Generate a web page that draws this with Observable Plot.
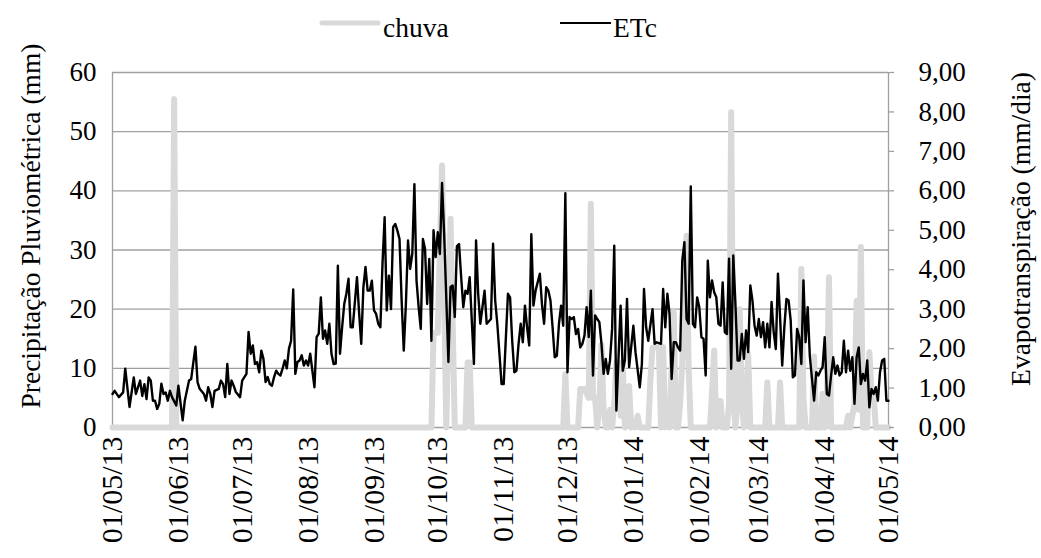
<!DOCTYPE html>
<html><head><meta charset="utf-8">
<script src="https://cdn.jsdelivr.net/npm/d3@7"></script>
<script src="https://cdn.jsdelivr.net/npm/@observablehq/plot@0.6"></script>
<style>
body{margin:0;background:#fff;}
#wrap{position:relative;width:1041px;height:558px;overflow:hidden;font-family:"Liberation Serif","Times New Roman",serif;}
#legend{position:absolute;top:0;left:0;}
#chart{position:absolute;top:45px;left:0;}
#titles{position:absolute;top:0;left:0;pointer-events:none;}
#wrap svg, #wrap svg text{font-family:"Liberation Serif","Times New Roman",serif !important;}
</style></head><body>
<div id="wrap">
<svg id="legend" width="1041" height="45">
  <line x1="322" x2="378" y1="23" y2="23" stroke="#d9d9d9" stroke-width="5" stroke-linecap="round"/>
  <text x="383" y="37" font-size="27.5">chuva</text>
  <line x1="560" x2="611" y1="23" y2="23" stroke="#000" stroke-width="2"/>
  <text x="613" y="37" font-size="27.5">ETc</text>
</svg>
<div id="chart"></div>
<svg id="titles" width="1041" height="558">
  <text transform="translate(40,226) rotate(-90)" text-anchor="middle" font-size="27.5">Precipitação Pluviométrica  (mm)</text>
  <text transform="translate(1030,229) rotate(-90)" text-anchor="middle" font-size="27.5">Evapotranspiração (mm/dia)</text>
</svg>
</div>
<script>
// day offsets from 01/05/2013
const etcDay = [0,1,3,5,6,8,10,11,13,14,15,16,17,18,19,20,21,22,23,24,25,26,27,28,30,31,33,34,36,37,39,40,41,43,44,45,46,47,48,50,51,52,53,54,55,56,57,58,60,61,63,64,65,66,67,68,69,70,71,72,73,74,75,76,77,78,79,80,81,82,83,84,85,86,87,88,89,90,91,92,93,94,95,96,97,98,99,100,101,102,103,104,105,106,107,108,109,110,111,112,113,115,116,117,118,119,120,121,122,123,124,125,126,127,128,129,130,131,132,133,134,135,136,137,138,139,140,141,142,143,144,145,146,147,148,149,150,151,152,153,154,155,156,158,159,160,161,162,163,164,165,166,167,168,170,171,172,173,175,176,178,179,180,181,182,183,184,186,187,188,189,190,191,192,193,194,195,196,197,198,199,201,202,203,204,205,206,207,208,209,210,211,212,213,214,215,216,217,218,219,220,221,222,223,224,225,226,227,228,229,230,231,232,233,234,235,236,237,239,240,241,242,243,245,246,248,249,250,251,252,254,255,256,258,259,260,261,262,263,264,265,266,267,268,269,270,271,272,273,274,275,276,277,278,279,280,281,282,283,284,285,286,287,288,289,290,291,292,293,294,295,296,297,298,299,300,301,302,303,304,305,306,307,308,309,310,311,312,313,314,315,316,317,318,319,320,321,322,323,324,325,326,327,328,330,331,332,333,334,335,336,337,338,339,340,341,342,343,344,345,346,347,348,349,350,351,352,353,354,355,356,357,358,359,360,361,362,363,364,365];
const etcVal = [0.85,0.93,0.77,0.89,1.49,0.52,1.27,0.85,1.19,0.80,1.10,0.72,1.27,1.19,0.68,0.68,0.47,0.60,1.11,0.85,0.89,0.68,0.93,0.77,0.56,1.06,0.18,0.68,1.19,1.23,2.05,1.15,0.98,0.85,0.68,1.02,0.85,0.52,0.93,0.98,1.19,1.10,0.77,1.61,0.85,1.19,1.06,0.90,0.77,1.19,1.36,2.42,1.87,2.08,1.61,1.66,1.40,1.95,1.74,1.15,1.28,1.10,1.06,1.28,1.44,1.36,1.32,1.49,1.70,1.50,2.00,2.20,3.50,1.36,1.66,1.70,1.83,1.57,1.70,1.57,1.87,1.44,1.02,2.29,2.38,3.30,2.25,2.46,2.12,2.63,1.87,1.61,1.62,4.10,1.87,2.54,3.13,3.39,3.77,2.54,2.54,3.81,2.90,2.12,3.55,4.07,3.47,3.47,3.72,2.97,2.88,2.63,2.54,4.15,5.33,2.97,3.85,3.00,5.08,5.16,4.99,4.78,3.22,1.95,3.13,4.74,4.02,4.40,6.17,3.72,3.05,2.50,4.78,4.53,3.13,4.27,2.20,5.00,4.32,4.95,4.40,6.20,4.90,1.66,3.56,3.60,2.80,4.60,4.65,3.81,3.05,3.47,3.39,3.81,1.61,4.74,3.39,2.63,3.47,2.63,2.75,4.66,3.22,2.63,1.87,1.10,1.10,3.39,3.30,2.20,1.40,1.44,2.12,2.63,2.16,3.09,2.54,2.08,4.90,3.09,3.47,3.90,3.13,2.63,3.56,3.47,3.22,2.54,1.78,1.82,2.63,3.09,2.58,5.94,1.40,2.80,2.75,2.80,2.37,2.50,2.03,2.12,2.33,3.05,2.29,3.47,1.32,2.84,2.75,2.67,2.12,1.36,1.74,1.36,1.70,2.50,4.61,0.43,3.09,1.44,1.70,3.26,1.53,2.58,1.91,1.02,1.61,3.51,2.54,2.20,3.00,2.12,2.16,2.12,3.51,2.54,3.39,2.88,1.23,2.16,2.16,2.03,1.95,4.23,4.70,2.75,2.63,6.11,2.63,2.54,3.30,3.05,2.29,2.25,1.32,4.23,3.30,3.73,3.43,3.30,2.63,2.58,3.68,2.42,2.37,4.28,1.49,4.36,3.13,1.70,1.70,2.37,1.74,2.46,1.91,3.60,3.22,2.58,2.33,2.75,2.29,2.67,2.03,2.63,2.03,3.18,2.42,1.99,3.90,2.80,1.57,2.54,3.26,3.22,2.71,1.27,1.32,2.50,2.29,1.61,3.73,2.16,3.05,1.80,0.68,1.40,1.32,1.44,1.53,2.29,0.85,0.81,1.32,1.78,1.36,1.57,1.32,1.40,2.20,1.40,1.95,1.44,1.78,0.60,1.78,2.03,1.10,1.36,1.19,1.70,0.51,0.98,0.85,1.02,0.68,1.40,1.70,1.74,0.68,0.68];

const rainDay = [0,28,29,30,150,151,153,155,157,159,161,166,167,168,169,212,213,214,219,220,222,224,225,226,227,228,229,230,231,232,233,234,235,236,237,238,239,240,241,242,243,244,245,246,247,248,252,253,254,256,257,258,259,260,261,262,263,264,265,266,267,268,270,271,272,281,282,283,284,285,286,287,289,290,291,292,293,294,295,296,297,298,299,300,307,308,309,313,314,315,323,324,325,326,329,330,331,333,334,335,336,337,338,345,346,347,349,350,351,352,353,355,356,357,358,359,365];
const rainMm  = [0,0,55.5,0,0,16,16,44.3,0,35.3,0,0,11,11,0,0,9,0,0,6.5,6.5,5,37.8,5,5,0,4,14,3,0,0,3,0,4,11,11,2,10.7,0,3,7,0,1,0,2,0,0,8,13.5,13.6,13.5,0,13.6,0,3,0,10,19.5,0,0,4,11,32.4,10,0,0,6,13,0,4.5,4.5,0,0,4,53.3,5,0,4.5,20,4.5,0,4,12.4,0,0,7.6,0,0,7.6,0,0,26.8,5,0,0,12,0,0,5.7,0,4,25.4,0,0,2,0,4,21.4,3,30.5,0,0,12.7,5.7,5.7,0,0];

const yLeftTicks = [0,10,20,30,40,50,60];
const yRightTicks = [0,1,2,3,4,5,6,7,8,9];
const xTickMonths = ["2013-05-01","2013-06-01","2013-07-01","2013-08-01","2013-09-01","2013-10-01","2013-11-01","2013-12-01","2014-01-01","2014-02-01","2014-03-01","2014-04-01","2014-05-01"];

const start = new Date(Date.UTC(2013,4,1));
const end = new Date(Date.UTC(2014,4,1));
const dayDate = d => d3.utcDay.offset(start, d);
const etc = etcDay.map((d,i) => ({date: dayDate(d), v: etcVal[i]}));
const rain = rainDay.map((d,i) => ({date: dayDate(d), mm: rainMm[i]}));
const k = 60/9;
const grid = "#a0a0a0";

const chart = Plot.plot({
  width: 1041, height: 513,
  marginTop: 27, marginBottom: 131, marginLeft: 112, marginRight: 153,
  style: {fontFamily: "'Liberation Serif', serif", fontSize: "27px", color: "#000", background: "transparent", overflow: "visible"},
  x: {type: "utc", domain: [start, end]},
  y: {domain: [0, 60]},
  marks: [
    Plot.ruleY(yLeftTicks, {stroke: grid, strokeWidth: 1.3}),
    Plot.ruleX([start, end], {stroke: grid, strokeWidth: 1.3}),
    Plot.line(rain, {x: "date", y: "mm", stroke: "#d9d9d9", strokeWidth: 6, strokeLinejoin: "round", strokeLinecap: "round"}),
    Plot.line(etc, {x: "date", y: d => d.v * k, stroke: "#000", strokeWidth: 2.4, strokeLinejoin: "round"}),
    Plot.axisY(yLeftTicks, {anchor: "left", tickSize: 0, tickPadding: 16, label: null, fontSize: 27}),
    Plot.axisY(yRightTicks.map(v => v * k), {anchor: "right", tickSize: 5, tickPadding: 25, stroke: grid, strokeWidth: 1.3, fill: "#000", label: null, fontSize: 27,
      tickFormat: t => (t / k).toFixed(2).replace(".", ",")}),
    Plot.axisX(xTickMonths.map(s => new Date(s + "T00:00:00Z")), {anchor: "bottom", tickSize: 0, tickPadding: 9, tickRotate: -90, label: null, fontSize: 30,
      tickFormat: d3.utcFormat("%d/%m/%y")})
  ]
});
document.getElementById("chart").appendChild(chart);
</script>
</body></html>
